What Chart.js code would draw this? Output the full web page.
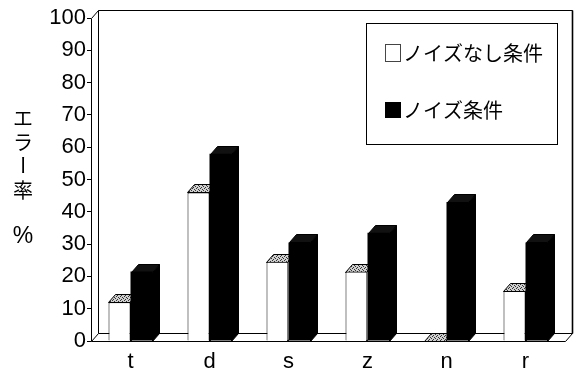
<!DOCTYPE html>
<html>
<head>
<meta charset="utf-8">
<script src="https://cdn.jsdelivr.net/npm/chart.js@4/dist/chart.umd.min.js"></script>
<style>
  html, body { margin: 0; padding: 0; background: #fff; }
  #c { display: block; }
</style>
</head>
<body>
<canvas id="c" width="574" height="376"></canvas>
<script>
// Error rate (%) per consonant, with and without background noise
const categories = ['t', 'd', 's', 'z', 'n', 'r'];
const quietErrors = [12, 46, 24.5, 21.5, 0, 15.5];
const noisyErrors = [21.5, 58, 30.5, 33.5, 43, 30.5];
const seriesNames = ['ノイズなし条件', 'ノイズ条件'];
const legendMarks = ['□', '■'];
const yTitleWord = 'エラー率';
const yTitleUnit = '%';
const yMin = 0, yMax = 100, yStep = 10;

// depth of the pseudo-3D extrusion
const DX = 7, DY = -8;

const CJK = '"Noto Sans CJK JP", "Noto Sans CJK SC", sans-serif';
const LATIN = '"Liberation Sans", Arial, sans-serif';

// grey stipple used on the caps of the white columns
function makeStipple(ctx) {
  const c = document.createElement('canvas');
  c.width = 4; c.height = 4;
  const g = c.getContext('2d');
  g.fillStyle = '#cfcfcf';
  g.fillRect(0, 0, 4, 4);
  g.fillStyle = '#333';
  [[0, 0], [2, 1], [1, 3], [3, 2]].forEach(([x, y]) => g.fillRect(x, y, 1, 1));
  return ctx.createPattern(c, 'repeat');
}

function quad(ctx, pts) {
  ctx.beginPath();
  ctx.moveTo(pts[0][0], pts[0][1]);
  for (let i = 1; i < pts.length; i++) ctx.lineTo(pts[i][0], pts[i][1]);
  ctx.closePath();
}

const depthPlugin = {
  id: 'depth',
  beforeDatasetsDraw(chart) {
    const { ctx, chartArea: a } = chart;
    const L = Math.round(a.left) + 0.5, R = Math.round(a.right) + 0.5;
    const T = Math.round(a.top) + 0.5, B = Math.round(a.bottom) + 0.5;
    ctx.save();
    ctx.lineWidth = 1;
    ctx.strokeStyle = '#000';

    // floor plate
    quad(ctx, [[L, B], [R, B], [R + DX, B + DY], [L + DX, B + DY]]);
    ctx.fillStyle = '#fff';
    ctx.fill();
    ctx.stroke();

    // back wall outline
    ctx.beginPath();
    ctx.moveTo(L + DX, B + DY);
    ctx.lineTo(L + DX, T + DY);
    ctx.lineTo(R + DX, T + DY);
    ctx.lineTo(R + DX, B + DY);
    ctx.stroke();
    ctx.beginPath();
    ctx.lineWidth = 1.6;
    ctx.moveTo(R + DX, T + DY);
    ctx.lineTo(R + DX, B + DY);
    ctx.stroke();
    ctx.lineWidth = 1;

    // front vertical axis and its link to the wall
    ctx.beginPath();
    ctx.moveTo(L, B);
    ctx.lineTo(L, T);
    ctx.lineTo(L + DX, T + DY);
    ctx.stroke();

    // column caps and sides (front faces are drawn by the library afterwards)
    const stipple = makeStipple(ctx);
    const metas = [chart.getDatasetMeta(0), chart.getDatasetMeta(1)];
    for (let i = 0; i < categories.length; i++) {
      metas.forEach((meta, k) => {
        const bar = meta.data[i];
        const p = bar.getProps(['x', 'y', 'base', 'width']);
        const left = Math.round(p.x - p.width / 2) + 0.5;
        const right = Math.round(p.x + p.width / 2) - 0.5;
        const top = Math.round(p.y) + 0.5;
        const base = Math.round(p.base) + 0.5;
        const side = [[right, top], [right + DX, top + DY], [right + DX, base + DY], [right, base]];
        const cap = [[left, top], [left + DX, top + DY], [right + DX, top + DY], [right, top]];
        if (k === 0) {
          quad(ctx, side); ctx.fillStyle = '#fff'; ctx.fill(); ctx.stroke();
          quad(ctx, cap); ctx.fillStyle = stipple; ctx.fill(); ctx.stroke();
        } else {
          quad(ctx, side); ctx.fillStyle = '#000'; ctx.fill(); ctx.stroke();
          quad(ctx, cap); ctx.fillStyle = '#111'; ctx.fill(); ctx.stroke();
        }
      });
    }
    ctx.restore();
  },
  afterDraw(chart) {
    const { ctx } = chart;
    ctx.save();
    ctx.fillStyle = '#000';
    ctx.textAlign = 'center';
    ctx.textBaseline = 'middle';

    // vertical axis title, written top to bottom
    ctx.font = '20px ' + CJK;
    const ys = [118, 142, 165, 190];
    [...yTitleWord].forEach((ch, i) => {
      if (ch === 'ー') {
        ctx.save();
        ctx.translate(23, ys[i]);
        ctx.rotate(Math.PI / 2);
        ctx.fillText(ch, 0, 0);
        ctx.restore();
      } else {
        ctx.fillText(ch, 23, ys[i]);
      }
    });
    ctx.font = '23px ' + LATIN;
    ctx.fillText(yTitleUnit, 23, 237);

    // legend box
    ctx.strokeStyle = '#000';
    ctx.lineWidth = 1;
    ctx.fillStyle = '#fff';
    ctx.fillRect(366.5, 23.5, 191, 121);
    ctx.strokeRect(366.5, 23.5, 191, 121);
    ctx.fillStyle = '#000';
    ctx.textAlign = 'left';
    ctx.font = '20px ' + CJK;
    ctx.fillText(legendMarks[0] + seriesNames[0], 383, 53);
    ctx.fillText(legendMarks[1] + seriesNames[1], 383, 110);
    ctx.restore();
  }
};

new Chart(document.getElementById('c'), {
  type: 'bar',
  data: {
    labels: categories,
    datasets: [
      {
        label: seriesNames[0],
        data: quietErrors,
        backgroundColor: '#fff',
        borderColor: '#000',
        borderWidth: 1,
        categoryPercentage: 0.557,
        barPercentage: 1
      },
      {
        label: seriesNames[1],
        data: noisyErrors,
        backgroundColor: '#000',
        borderColor: '#000',
        borderWidth: 0,
        categoryPercentage: 0.557,
        barPercentage: 1
      }
    ]
  },
  options: {
    responsive: false,
    animation: false,
    events: [],
    layout: { padding: { top: 18, right: 9, left: 0, bottom: 0 } },
    plugins: {
      legend: { display: false },
      tooltip: { enabled: false }
    },
    scales: {
      x: {
        grid: { display: false, drawTicks: false },
        border: { display: false },
        ticks: {
          color: '#000',
          padding: 8,
          font: { family: LATIN, size: 22 }
        },
        afterFit(scale) { scale.height = 35; }
      },
      y: {
        min: yMin,
        max: yMax,
        grid: { drawOnChartArea: false, drawTicks: true, tickLength: 4, color: '#000' },
        border: { display: false },
        ticks: {
          stepSize: yStep,
          color: '#000',
          padding: 1,
          font: { family: LATIN, size: 22 }
        },
        afterFit(scale) { scale.width = 91; }
      }
    }
  },
  plugins: [depthPlugin]
});
</script>
</body>
</html>
